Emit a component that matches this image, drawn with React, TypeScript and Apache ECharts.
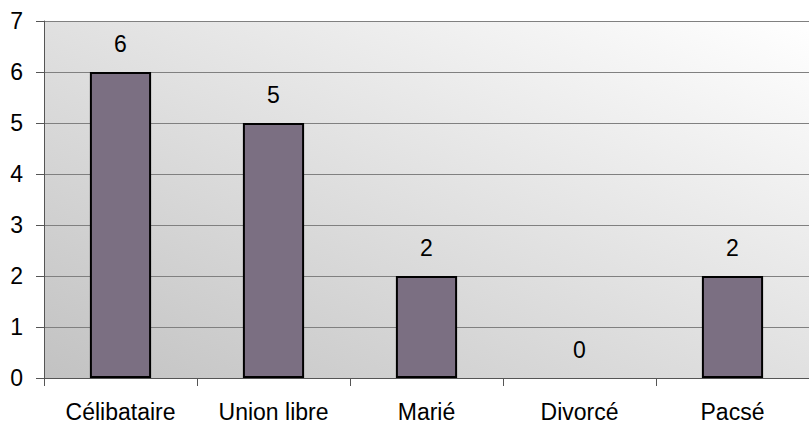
import React, { useEffect, useRef } from "react";
import * as echarts from "echarts";

const categories = ["Célibataire", "Union libre", "Marié", "Divorcé", "Pacsé"];
const values = [6, 5, 2, 0, 2];
const yTicks = [0, 1, 2, 3, 4, 5, 6, 7];

export default function App() {
  const ref = useRef<HTMLDivElement>(null);
  useEffect(() => {
    if (!ref.current) return;
    const chart = echarts.init(ref.current, null, { renderer: "svg" });
    const font = "'Liberation Sans', Arial, sans-serif";
    chart.setOption({
      animation: false,
      grid: {
        left: 44,
        right: 0,
        top: 21,
        bottom: 50,
        show: true,
        borderWidth: 0,
        backgroundColor: new echarts.graphic.LinearGradient(0, 1, 1, 0, [
          { offset: 0, color: "#c2c2c2" },
          { offset: 1, color: "#ffffff" },
        ]),
      },
      xAxis: {
        type: "category",
        data: categories,
        axisLine: { show: true, lineStyle: { color: "#555555", width: 1 } },
        axisTick: { show: true, length: 8, alignWithLabel: false, lineStyle: { color: "#555555" } },
        axisLabel: { color: "#000", fontSize: 23, fontFamily: font, margin: 22 },
      },
      yAxis: {
        type: "value",
        min: yTicks[0],
        max: yTicks[yTicks.length - 1],
        interval: 1,
        axisLine: { show: true, lineStyle: { color: "#555555", width: 1 } },
        axisTick: { show: true, length: 8, lineStyle: { color: "#555555" } },
        axisLabel: { color: "#000", fontSize: 23, fontFamily: font, margin: 21 },
        splitLine: { show: true, lineStyle: { color: "#808080", width: 1 } },
      },
      series: [
        {
          type: "bar",
          data: values.map((v) => (v === 0 ? { value: v, itemStyle: { borderWidth: 0 } } : v)),
          barWidth: "40%",
          itemStyle: { color: "#7b6f82", borderColor: "#000", borderWidth: 2 },
          label: {
            show: true,
            position: "top",
            distance: 17,
            color: "#000",
            fontSize: 23,
            fontFamily: font,
          },
        },
      ],
    });
    return () => chart.dispose();
  }, []);
  return <div ref={ref} style={{ width: 809, height: 428, position: "absolute", left: 0, top: 0 }} />;
}
